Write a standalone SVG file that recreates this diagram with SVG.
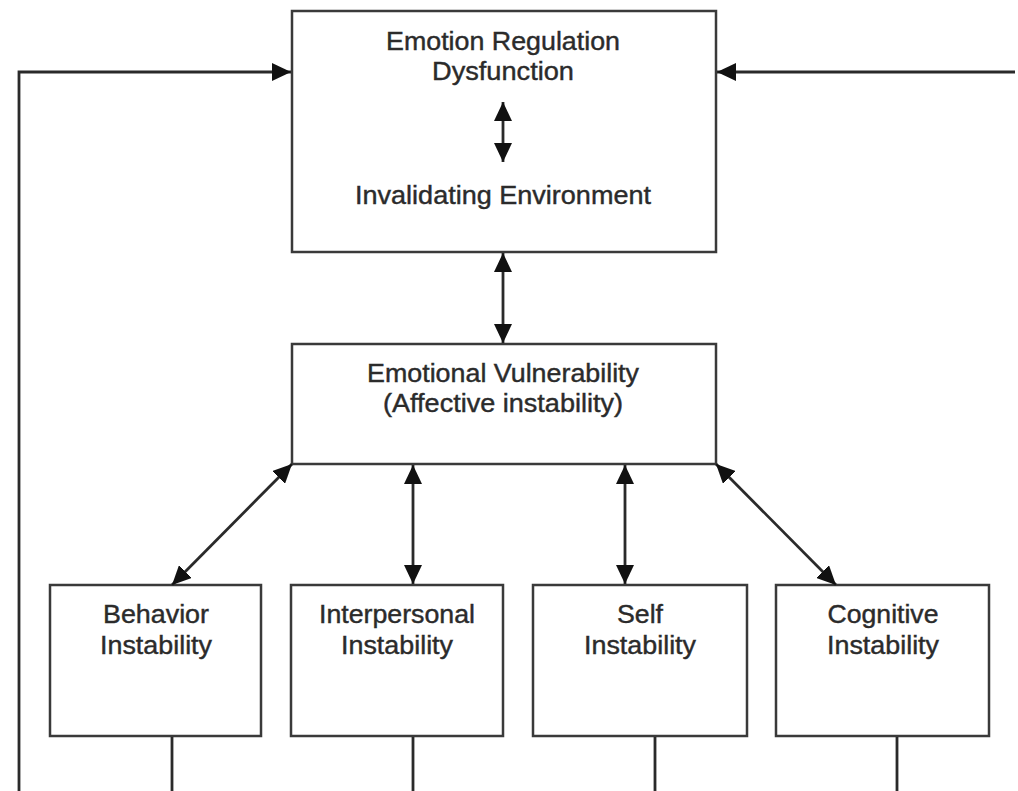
<svg xmlns="http://www.w3.org/2000/svg" width="1018" height="791" viewBox="0 0 1018 791">
<style>
.box{fill:#fff;stroke:#3a3a3a;stroke-width:2.5}
.t{font-family:"Liberation Sans",Arial,sans-serif;font-size:25px;fill:#2b2b2b;stroke:#2b2b2b;stroke-width:0.4;text-anchor:middle}
.ln{fill:none;stroke:#2a2a2a;stroke-width:2.8}
.a1{marker-end:url(#ah)}
.a2{marker-start:url(#ah);marker-end:url(#ah)}
</style>
<defs>
<marker id="ah" markerUnits="userSpaceOnUse" markerWidth="19" markerHeight="18" refX="19" refY="9" orient="auto-start-reverse" viewBox="0 0 19 18">
<path d="M0,0 L19,9 L0,18 z" fill="#111"/>
</marker>
</defs>
<rect width="1018" height="791" fill="#fff"/>
<g id="node-top">
<rect class="box" x="292" y="11" width="424" height="241"/>
<text class="t" x="503" y="50" textLength="234" lengthAdjust="spacingAndGlyphs">Emotion Regulation</text>
<text class="t" x="503" y="80" textLength="142" lengthAdjust="spacingAndGlyphs">Dysfunction</text>
<text class="t" x="503" y="204" textLength="296" lengthAdjust="spacingAndGlyphs">Invalidating Environment</text>
</g>
<g id="node-vuln">
<rect class="box" x="292" y="344" width="424" height="120"/>
<text class="t" x="503" y="382" textLength="272" lengthAdjust="spacingAndGlyphs">Emotional Vulnerability</text>
<text class="t" x="503" y="412" textLength="240" lengthAdjust="spacingAndGlyphs">(Affective instability)</text>
</g>
<g id="node-behavior">
<rect class="box" x="50" y="585" width="211" height="151"/>
<text class="t" x="156" y="623" textLength="106" lengthAdjust="spacingAndGlyphs">Behavior</text>
<text class="t" x="156" y="654" textLength="112" lengthAdjust="spacingAndGlyphs">Instability</text>
</g>
<g id="node-interpersonal">
<rect class="box" x="291" y="585" width="212" height="151"/>
<text class="t" x="397" y="623" textLength="156" lengthAdjust="spacingAndGlyphs">Interpersonal</text>
<text class="t" x="397" y="654" textLength="112" lengthAdjust="spacingAndGlyphs">Instability</text>
</g>
<g id="node-self">
<rect class="box" x="533" y="585" width="214" height="151"/>
<text class="t" x="640" y="623" textLength="46" lengthAdjust="spacingAndGlyphs">Self</text>
<text class="t" x="640" y="654" textLength="112" lengthAdjust="spacingAndGlyphs">Instability</text>
</g>
<g id="node-cognitive">
<rect class="box" x="776" y="585" width="213" height="151"/>
<text class="t" x="883" y="623" textLength="111" lengthAdjust="spacingAndGlyphs">Cognitive</text>
<text class="t" x="883" y="654" textLength="112" lengthAdjust="spacingAndGlyphs">Instability</text>
</g>
<g id="connectors">
<path class="ln a1" d="M19,791 L19,72 L291,72"/>
<path class="ln a1" d="M1015,72 L717,72"/>
<line class="ln a2" x1="503" y1="102" x2="503" y2="162"/>
<line class="ln a2" x1="503" y1="253" x2="503" y2="343"/>
<line class="ln a2" x1="292" y1="464" x2="172" y2="585"/>
<line class="ln a2" x1="413" y1="465" x2="413" y2="584"/>
<line class="ln a2" x1="625" y1="465" x2="625" y2="584"/>
<line class="ln a2" x1="716" y1="464" x2="836" y2="585"/>
<line class="ln" x1="172" y1="737" x2="172" y2="791"/>
<line class="ln" x1="413" y1="737" x2="413" y2="791"/>
<line class="ln" x1="655" y1="737" x2="655" y2="791"/>
<line class="ln" x1="897" y1="737" x2="897" y2="791"/>
</g>
</svg>
